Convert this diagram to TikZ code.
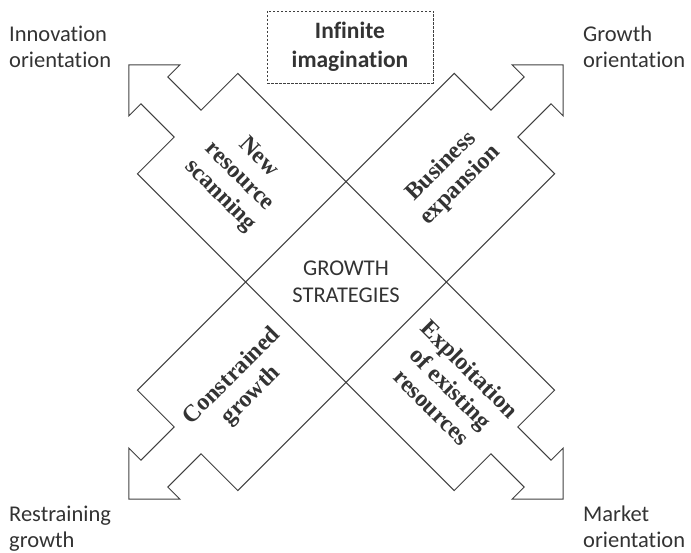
\documentclass[tikz,border=0pt]{standalone}
\usepackage{fontspec}
\setmainfont{Carlito}[Ligatures=NoCommon]
\newfontfamily\armfont{Liberation Serif}
\definecolor{linegray}{HTML}{404040}
\definecolor{textgray}{HTML}{333333}
\tikzset{
	armline/.style={draw=linegray, line width=1pt, line join=miter},
	armtext/.style={font=\armfont\bfseries\fontsize{24}{27}\selectfont, text=textgray, align=center, inner sep=0pt},
	cornerlabel/.style={font=\fontsize{22.5}{26}\selectfont, text=textgray, align=left, inner sep=0pt, anchor=west},
}
\begin{document}
\begin{tikzpicture}[x=1pt,y=1pt]
	\useasboundingbox (0,0) rectangle (691,553);
		\node[font=\fontsize{22.5}{27}\selectfont, text=textgray, align=center, inner sep=0pt] (core) at (346,271) {GROWTH\\STRATEGIES};
		\foreach \a in {45,135,225,315}{
			\begin{scope}[shift={(core)},rotate=\a]
				\draw[armline] (71,71) -- (224,71) -- (224,19) -- (271,19) -- (271,36) -- (307,0) -- (271,-36) -- (271,-19) -- (224,-19) -- (224,-71) -- (71,-71) -- cycle;
			\end{scope}
		}
		\node[armtext, rotate=-45] (scanning) at (239,376) {New\\resource\\scanning};
		\node[armtext, rotate=45] (expansion) at (451,377) {Business\\expansion};
		\node[armtext, rotate=45] (constrained) at (242,167) {Constrained\\growth};
		\node[armtext, rotate=-45] (exploitation) at (451,165) {Exploitation\\of existing\\resources};
		\node[draw=linegray, dash pattern=on 2.5pt off 1.5pt, line width=0.8pt, minimum width=166pt, minimum height=72pt, font=\bfseries\fontsize{23.5}{29}\selectfont, text=textgray, align=center] (imagination) at (350,506) {Infinite\\imagination};
		\node[cornerlabel] (innovation) at (9,506) {Innovation\\orientation};
		\node[cornerlabel] (growth) at (583,506) {Growth\\orientation};
		\node[cornerlabel] (restraining) at (9,24) {Restraining\\growth};
		\node[cornerlabel] (market) at (583,26) {Market\\orientation};
	\end{tikzpicture}
\end{document}
